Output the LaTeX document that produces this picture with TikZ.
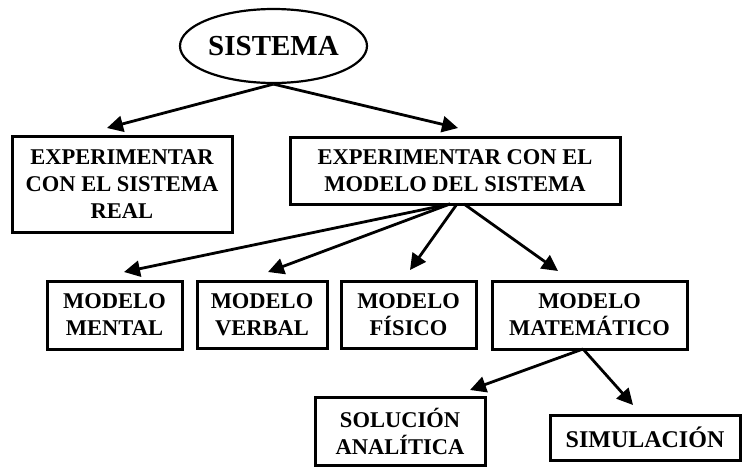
\documentclass[tikz,border=0pt]{standalone}
\usepackage{fontspec}
\setmainfont{Liberation Serif}
\usetikzlibrary{arrows.meta,shapes.geometric}
\begin{document}
\begin{tikzpicture}[x=1pt,y=-1pt,
  box/.style={draw,line width=3pt,inner sep=0pt,align=center,
    font=\fontsize{22.5}{27}\selectfont\bfseries},
  arr/.style={line width=2.8pt,-{Triangle[length=16pt,width=16pt]}}]
\useasboundingbox (0,0) rectangle (744,466);
\node[ellipse,draw,line width=2.2pt,minimum width=187pt,minimum height=74pt,inner sep=0pt,
  font=\fontsize{29}{30}\selectfont\bfseries] (sis) at (273.5,46) {SISTEMA};
\node[box,minimum width=220pt,minimum height=96pt] (real) at (122,184) {EXPERIMENTAR\\CON EL SISTEMA\\REAL};
\node[box,minimum width=330pt,minimum height=67pt] (mod) at (455,170.5) {EXPERIMENTAR CON EL\\MODELO DEL SISTEMA};
\node[box,minimum width=135pt,minimum height=68pt] (ment) at (114.5,315) {MODELO\\MENTAL};
\node[box,minimum width=130pt,minimum height=67pt] (verb) at (262,314.5) {MODELO\\VERBAL};
\node[box,minimum width=135pt,minimum height=67pt] (fis) at (408.5,314.5) {MODELO\\FÍSICO};
\node[box,minimum width=195pt,minimum height=68pt] (mat) at (589.5,315) {MODELO\\MATEMÁTICO};
\node[box,minimum width=170pt,minimum height=68pt] (sol) at (400,431) {SOLUCIÓN\\ANALÍTICA};
\node[box,minimum width=190pt,minimum height=45pt,font=\fontsize{24}{27}\selectfont\bfseries] (sim) at (645,437.5) {SIMULACIÓN};
% tips
\coordinate (tReal) at (107,128);
\coordinate (tMod) at (458,128);
\coordinate (sA) at (450,204);
\coordinate (sB) at (457,204);
\coordinate (sC) at (464,204);
\coordinate (tMent) at (124,272);
\coordinate (tVerb) at (268,272);
\coordinate (tFis) at (410,270);
\coordinate (tMat) at (558,271);
\coordinate (sM) at (583,349);
\coordinate (tSol) at (470,390);
\coordinate (tSim) at (633,405);
\draw[arr] (sis.south) -- (tReal);
\draw[arr] (sis.south) -- (tMod);
\draw[arr] (sA) -- (tMent);
\draw[arr] (sA) -- (tVerb);
\draw[arr] (sB) -- (tFis);
\draw[arr] (sC) -- (tMat);
\draw[arr] (sM) -- (tSol);
\draw[arr] (sM) -- (tSim);
\end{tikzpicture}
\end{document}
